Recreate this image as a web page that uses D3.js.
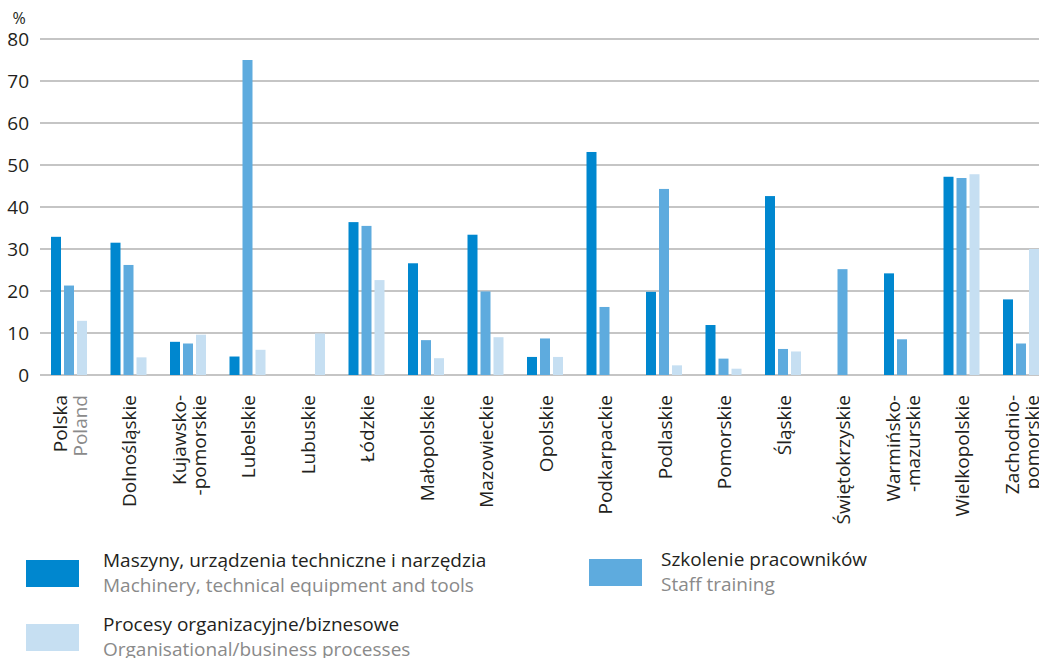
<!DOCTYPE html>
<html lang="pl">
<head>
    <meta charset="UTF-8">
    <style>
        body { margin: 0; background: #fff; }
        svg { display: block; font-family: "Open Sans", sans-serif; }
        .tick-label { font-size: 19px; fill: #231f20; }
        .cat-label { font-size: 19px; fill: #231f20; }
        .cat-label.en { fill: #8a8a8a; }
        .leg-pl { font-size: 19px; fill: #231f20; }
        .leg-en { font-size: 19px; fill: #8a8a8a; }
    </style>
    <script src="https://d3js.org/d3.v7.min.js"></script>
</head>
<body>
<div id="chart"></div>
<script>
    // regions (each label can be one or two lines)
    var regions = ["Polska", "Dolnośląskie", "Kujawsko-pomorskie", "Lubelskie", "Lubuskie", "Łódzkie",
        "Małopolskie", "Mazowieckie", "Opolskie", "Podkarpackie", "Podlaskie", "Pomorskie",
        "Śląskie", "Świętokrzyskie", "Warmińsko-mazurskie", "Wielkopolskie", "Zachodniopomorskie"];
    var regionLines = [["Polska", "Poland"], ["Dolnośląskie"], ["Kujawsko-", "-pomorskie"], ["Lubelskie"],
        ["Lubuskie"], ["Łódzkie"], ["Małopolskie"], ["Mazowieckie"], ["Opolskie"], ["Podkarpackie"],
        ["Podlaskie"], ["Pomorskie"], ["Śląskie"], ["Świętokrzyskie"], ["Warmińsko-", "-mazurskie"],
        ["Wielkopolskie"], ["Zachodnio-", "pomorskie"]];

    var series = ["machinery", "training", "processes"];
    var seriesPl = ["Maszyny, urządzenia techniczne i narzędzia", "Szkolenie pracowników", "Procesy organizacyjne/biznesowe"];
    var seriesEn = ["Machinery, technical equipment and tools", "Staff training", "Organisational/business processes"];
    var colors = ["#0087cf", "#5eabde", "#c6dff2"];

    var machinery = [32.9, 31.5, 7.9, 4.4, 0, 36.4, 26.6, 33.4, 4.3, 53.1, 19.8, 11.9, 42.6, 0, 24.2, 47.2, 18.0];
    var training  = [21.3, 26.2, 7.5, 75.0, 0, 35.5, 8.3, 19.9, 8.7, 16.2, 44.3, 3.9, 6.2, 25.2, 8.5, 46.9, 7.5];
    var processes = [12.9, 4.2, 9.6, 6.0, 9.9, 22.6, 4.0, 9.0, 4.3, 0, 2.3, 1.5, 5.6, 0, 0, 47.8, 30.0];

    var yTicks = [0, 10, 20, 30, 40, 50, 60, 70, 80];

    var width = 1039, height = 658;
    var plotLeft = 40, plotTop = 39, plotBottom = 375;

    var svg = d3.select("#chart").append("svg")
        .attr("width", width)
        .attr("height", height);

    var y = d3.scaleLinear().domain([0, 80]).range([plotBottom, plotTop]);

    // groups run a bit past the right edge, as in the original
    var x0 = d3.scaleBand().domain(regions).range([plotLeft, plotLeft + 17 * 59.5]);
    var x1 = d3.scaleBand().domain(series).range([11, 50]);

    // gridlines
    svg.append("g")
        .selectAll("line")
        .data(yTicks)
        .enter()
        .append("line")
        .attr("x1", plotLeft)
        .attr("x2", width)
        .attr("y1", function (d) { return y(d); })
        .attr("y2", function (d) { return y(d); })
        .attr("stroke", "#b2b2b2")
        .attr("stroke-width", 1.3);

    // y labels
    svg.append("g")
        .selectAll("text")
        .data(yTicks)
        .enter()
        .append("text")
        .attr("class", "tick-label")
        .attr("x", 29)
        .attr("y", function (d) { return y(d); })
        .attr("text-anchor", "end")
        .attr("dominant-baseline", "central")
        .text(function (d) { return d; });

    svg.append("text")
        .attr("class", "tick-label")
        .attr("x", 19)
        .attr("y", 18)
        .attr("text-anchor", "middle")
        .attr("dominant-baseline", "central")
        .style("font-size", "16px")
        .text("%");

    // bars
    var rows = regions.map(function (r, i) {
        return { region: r, values: [machinery[i], training[i], processes[i]] };
    });

    var groups = svg.append("g")
        .selectAll("g")
        .data(rows)
        .enter()
        .append("g")
        .attr("transform", function (d) { return "translate(" + x0(d.region) + ",0)"; });

    groups.selectAll("rect")
        .data(function (d) { return d.values.map(function (v, j) { return { key: series[j], value: v, idx: j }; }); })
        .enter()
        .filter(function (d) { return d.value > 0; })
        .append("rect")
        .attr("x", function (d) { return x1(d.key); })
        .attr("width", x1.bandwidth() - 3)
        .attr("y", function (d) { return y(d.value); })
        .attr("height", function (d) { return plotBottom - y(d.value); })
        .attr("fill", function (d) { return colors[d.idx]; });

    // category labels, rotated
    var labels = svg.append("g")
        .selectAll("g")
        .data(regions)
        .enter()
        .append("g")
        .attr("transform", function (d) { return "translate(" + (x0(d) + x0.bandwidth() / 2) + ",395)rotate(-90)"; });

    labels.each(function (d, i) {
        var lines = regionLines[i];
        var g = d3.select(this);
        lines.forEach(function (line, k) {
            var off = lines.length === 1 ? 0 : (k === 0 ? -10 : 10);
            g.append("text")
                .attr("class", "cat-label" + (i === 0 && k === 1 ? " en" : ""))
                .attr("x", 0)
                .attr("y", off)
                .attr("text-anchor", "end")
                .attr("dominant-baseline", "central")
                .text(line);
        });
    });

    // legend
    var legendPos = [[26, 560, 103], [589, 559, 661], [26, 624, 103]];
    var legend = svg.append("g")
        .selectAll("g")
        .data(series)
        .enter()
        .append("g")
        .attr("transform", function (d, i) { return "translate(" + legendPos[i][0] + "," + legendPos[i][1] + ")"; });

    legend.append("rect")
        .attr("width", 53)
        .attr("height", 27)
        .attr("fill", function (d, i) { return colors[i]; });

    legend.append("text")
        .attr("class", "leg-pl")
        .attr("x", function (d, i) { return legendPos[i][2] - legendPos[i][0]; })
        .attr("y", 6.5)
        .text(function (d, i) { return seriesPl[i]; });

    legend.append("text")
        .attr("class", "leg-en")
        .attr("x", function (d, i) { return legendPos[i][2] - legendPos[i][0]; })
        .attr("y", 32)
        .text(function (d, i) { return seriesEn[i]; });
</script>
</body>
</html>
